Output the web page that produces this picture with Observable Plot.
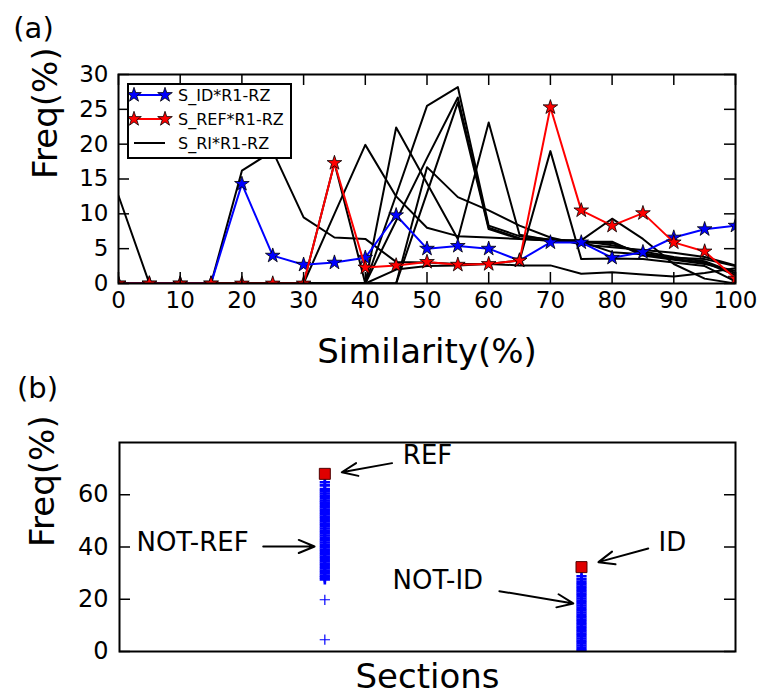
<!DOCTYPE html>
<html>
<head>
<meta charset="utf-8">
<script src="https://cdn.jsdelivr.net/npm/d3@7"></script>
<script src="https://cdn.jsdelivr.net/npm/@observablehq/plot@0.6"></script>
<style>
  html, body { margin: 0; padding: 0; background: white; }
  #wrap { position: relative; width: 763px; height: 695px; overflow: hidden; font-family: "DejaVu Sans", sans-serif; }
  #wrap svg { display: block; }
  #legend { position: absolute; left: 127px; top: 83px; width: 161px; height: 72px; border: 2px solid black; background: white; }
</style>
</head>
<body>
<div id="wrap"></div>
<script>
// ---------- Panel (a) data ----------
const similarity = [0,5,10,15,20,25,30,35,40,45,50,55,60,65,70,75,80,85,90,95,100];
const sId  = [0,0,0,0,14.3,4.0,2.7,3.0,3.7,9.8,5.0,5.4,5.0,3.3,5.9,5.9,3.7,4.5,6.6,7.8,8.3];
const sRef = [0,0,0,0,0,0,0,17.3,2.3,2.6,3.1,2.7,2.8,3.3,25.3,10.5,8.3,10.1,5.9,4.6,0.7];
const ri1 = [12.6,0,0,0,16.2,19.0,9.5,6.6,6.4,3.1,3.0,2.8,2.8,2.6,2.6,1.4,1.6,1.3,1.0,1.5,2.2];
const ri2 = [0,0,0,0,0,0,0,10.0,19.9,12.5,8.0,6.8,6.6,6.4,6.2,6.2,9.3,6.4,2.8,0.7,0];
const ri3 = [0,0,0,0,0,0,0,0,0,22.4,14.4,6.4,23.1,7.0,6.2,6.0,4.5,4.2,3.5,3.0,1.2];
const ri4 = [0,0,0,0,0,0,0,0,0,12.7,25.5,28.2,8.3,6.8,6.3,6.1,5.5,4.6,3.8,3.2,1.5];
const ri5 = [0,0,0,0,0,0,0,0,0,9.0,18.0,26.7,8.0,6.5,6.1,5.9,5.8,4.3,3.7,3.5,2.5];
const ri6 = [0,0,0,0,0,0,0,17.3,0,0,13.0,26.0,7.8,6.4,6.2,6.0,6.0,4.0,3.4,2.8,1.8];
const ri7 = [0,0,0,0,0,0,0,0,0,0,16.7,12.4,10.5,8.3,6.6,5.6,5.2,4.8,4.4,3.8,2.6];
const ri8 = [0,0,0,0,0,0,0,0,0,2.0,2.5,2.6,2.8,3.3,19.0,3.5,3.6,3.5,3.0,2.5,0.3];
const xTicksA = [0,10,20,30,40,50,60,70,80,90,100];
const yTicksA = [0,5,10,15,20,25,30];
const seriesNames = ["S_ID*R1-RZ", "S_REF*R1-RZ", "S_RI*R1-RZ"];

// ---------- Panel (b) data ----------
const sectionPos = [4, 9];
const notRef = [64.8,63.6,62.2,61.4,60.5,59.6,58.7,57.8,57,56.1,55.2,54.3,53.4,52.5,51.6,50.7,49.8,48.9,48,47.1,46.2,45.3,44.4,43.5,42.6,41.7,40.8,39.9,39,38.1,37.2,36.3,35.4,34.5,33.6,32.7,31.8,30.9,30,29.1,28.4,27.6];
const notRefLow = [19.8, 4.5];
const notId = [28.8,27.6,26.6,25.7,24.8,23.9,23,22.1,21.2,20.3,19.4,18.5,17.6,16.7,15.8,14.9,14,13.1,12.2,11.3,10.4,9.5,8.6,7.7,6.8,5.9,5,4.1,3.2,2.3,1.4,0.5];
const refValue = [68];
const idValue = [32.3];
const yTicksB = [0,20,40,60];
const annLabels = ["REF", "NOT-REF", "ID", "NOT-ID"];
const annTextX = [5.52, 0.33, 10.5, 5.32];
const annTextY = [75, 41.8, 41.8, 27.2];
const arrowFromX = [5.31, 2.8, 10.3, 7.4];
const arrowFromY = [72.1, 40.2, 39.4, 23.1];
const arrowToX = [4.33, 3.8, 9.33, 8.84];
const arrowToY = [68.6, 40.2, 34.2, 18.4];

// ---------- build tables ----------
const idRows = similarity.map((x, i) => ({x, y: sId[i]}));
const refRows = similarity.map((x, i) => ({x, y: sRef[i]}));
const riSets = [ri1, ri2, ri3, ri4, ri5, ri6, ri7, ri8];
const riRows = riSets.flatMap((s, k) => similarity.map((x, i) => ({x, y: s[i], k})));
const ann = annLabels.map((t, i) => ({t, tx: annTextX[i], ty: annTextY[i], x1: arrowFromX[i], y1: arrowFromY[i], x2: arrowToX[i], y2: arrowToY[i]}));

const BLUE = "#0000ff", RED = "#ff0000";
const FONT = "DejaVu Sans";

// ---------- Panel (a) ----------
const wA = 763, hA = 365, mTA = 74, mBA = 82, mLA = 118, mRA = 28;
const fwA = wA - mLA - mRA, fhA = hA - mTA - mBA, tk = 11;
const chartA = Plot.plot({
  width: wA, height: hA,
  marginTop: mTA, marginBottom: mBA, marginLeft: mLA, marginRight: mRA,
  style: {fontFamily: FONT, fontSize: "23px", background: "white", color: "black", overflow: "visible"},
  x: {domain: [0, 100], ticks: xTicksA, tickSize: 0, tickPadding: 8, label: null},
  y: {domain: [0, 30], ticks: yTicksA, tickSize: 0, tickPadding: 10, label: null},
  marks: [
    Plot.line(riRows, {x: "x", y: "y", z: "k", stroke: "black", strokeWidth: 2, clip: true}),
    Plot.line(idRows, {x: "x", y: "y", stroke: BLUE, strokeWidth: 2, clip: true}),
    Plot.dot(idRows, {x: "x", y: "y", symbol: "star", r: 4.6, fill: BLUE, stroke: "black", strokeWidth: 0.8, clip: true}),
    Plot.line(refRows, {x: "x", y: "y", stroke: RED, strokeWidth: 2, clip: true}),
    Plot.dot(refRows, {x: "x", y: "y", symbol: "star", r: 4.6, fill: RED, stroke: "black", strokeWidth: 0.8, clip: true}),
    Plot.tickX(xTicksA, {x: d => d, insetTop: fhA - tk, stroke: "black", strokeWidth: 1.5}),
    Plot.tickX(xTicksA, {x: d => d, insetBottom: fhA - tk, stroke: "black", strokeWidth: 1.5}),
    Plot.tickY(yTicksA, {y: d => d, insetRight: fwA - tk, stroke: "black", strokeWidth: 1.5}),
    Plot.tickY(yTicksA, {y: d => d, insetLeft: fwA - tk, stroke: "black", strokeWidth: 1.5}),
    Plot.frame({stroke: "black", strokeWidth: 2}),
    Plot.text(["Similarity(%)"], {text: d => d, frameAnchor: "bottom", dy: 69, lineAnchor: "middle", fontSize: 34}),
    Plot.text(["Freq(%)"], {text: d => d, frameAnchor: "left", dx: -72, rotate: -90, fontSize: 34}),
    Plot.text(["(a)"], {text: d => d, frameAnchor: "top-left", dx: -85, dy: -46, textAnchor: "middle", lineAnchor: "middle", fontSize: 29})
  ]
});

// ---------- Panel (b) ----------
const wB = 763, hB = 330, mTB = 77, mBB = 44, mLB = 119, mRB = 28;
const fwB = wB - mLB - mRB;
const plusR = 3.4;
const chartB = Plot.plot({
  width: wB, height: hB,
  marginTop: mTB, marginBottom: mBB, marginLeft: mLB, marginRight: mRB,
  style: {fontFamily: FONT, fontSize: "24px", background: "white", color: "black", overflow: "visible"},
  x: {domain: [0, 12], axis: null},
  y: {domain: [0, 80], ticks: yTicksB, tickSize: 0, tickPadding: 11, label: null},
  marks: [
    Plot.dot(notRef, {x: () => sectionPos[0], y: d => d, symbol: "plus", r: plusR, stroke: BLUE, strokeWidth: 2.6, clip: true}),
    Plot.dot(notRefLow, {x: () => sectionPos[0], y: d => d, symbol: "plus", r: plusR, stroke: BLUE, strokeWidth: 1.2, clip: true}),
    Plot.dot(notId, {x: () => sectionPos[1], y: d => d, symbol: "plus", r: plusR, stroke: BLUE, strokeWidth: 2.6, clip: true}),
    Plot.dot(refValue, {x: () => sectionPos[0], y: d => d, symbol: "square", r: 6.2, fill: "#e00000", stroke: "#500000", strokeWidth: 1}),
    Plot.dot(idValue, {x: () => sectionPos[1], y: d => d, symbol: "square", r: 6.2, fill: "#e00000", stroke: "#500000", strokeWidth: 1}),
    Plot.tickY(yTicksB, {y: d => d, insetRight: fwB - tk, stroke: "black", strokeWidth: 1.5}),
    Plot.tickY(yTicksB, {y: d => d, insetLeft: fwB - tk, stroke: "black", strokeWidth: 1.5}),
    Plot.frame({stroke: "black", strokeWidth: 2}),
    Plot.arrow(ann, {x1: "x1", y1: "y1", x2: "x2", y2: "y2", stroke: "black", strokeWidth: 2, headLength: 13, headAngle: 45}),
    Plot.text(ann, {x: "tx", y: "ty", text: "t", textAnchor: "start", lineAnchor: "middle", fontSize: 26}),
    Plot.text(["Sections"], {text: d => d, frameAnchor: "bottom", dy: 26, lineAnchor: "middle", fontSize: 34}),
    Plot.text(["Freq(%)"], {text: d => d, frameAnchor: "left", dx: -76, rotate: -90, fontSize: 34}),
    Plot.text(["(b)"], {text: d => d, frameAnchor: "top-left", dx: -82, dy: -54, textAnchor: "middle", lineAnchor: "middle", fontSize: 29})
  ]
});

const wrap = document.getElementById("wrap");
wrap.appendChild(chartA);
wrap.appendChild(chartB);

// ---------- legend (overlay on panel a) ----------
const legend = document.createElement("div");
legend.id = "legend";
wrap.appendChild(legend);
const lsvg = d3.select(legend).append("svg").attr("width", 161).attr("height", 72)
  .style("font-family", FONT);
const legendColors = [BLUE, RED, "black"];
const starPath = d3.symbol(d3.symbolStar, Math.PI * 4.6 * 4.6)();
seriesNames.forEach((name, i) => {
  const y = 10 + i * 24;
  const g = lsvg.append("g").attr("transform", `translate(0,${y})`);
  g.append("line").attr("x1", 5).attr("x2", 36).attr("y1", 0).attr("y2", 0)
    .attr("stroke", legendColors[i]).attr("stroke-width", 2);
  if (i < 2) {
    [5, 36].forEach(cx => g.append("path").attr("d", starPath)
      .attr("transform", `translate(${cx},0)`)
      .attr("fill", legendColors[i]).attr("stroke", "black").attr("stroke-width", 0.8));
  }
  g.append("text").attr("x", 49).attr("y", 0).attr("dy", "0.35em")
    .attr("font-size", 16).attr("fill", "black").text(name);
});
</script>
</body>
</html>
